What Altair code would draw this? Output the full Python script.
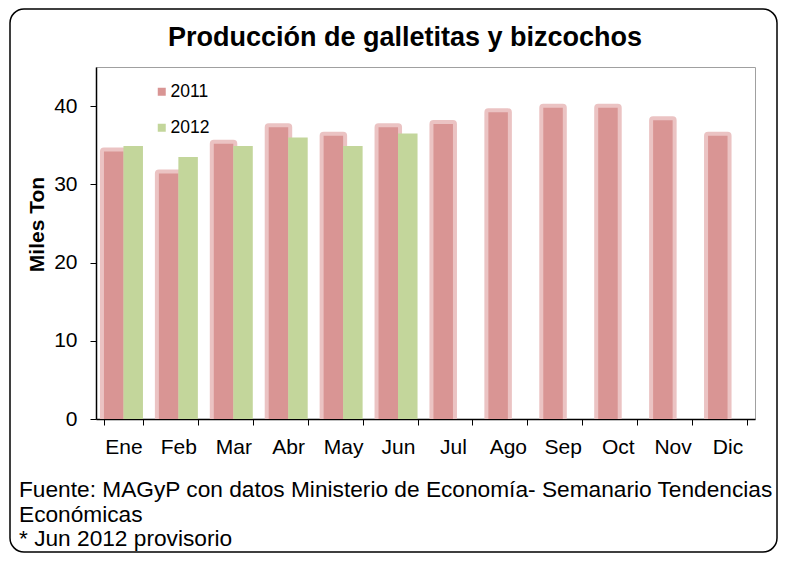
import altair as alt
import pandas as pd

months = ["Ene", "Feb", "Mar", "Abr", "May", "Jun", "Jul", "Ago", "Sep", "Oct", "Nov", "Dic"]
years = ["2011", "2012"]
prod_2011 = [34.2, 31.4, 35.2, 37.3, 36.2, 37.3, 37.7, 39.2, 39.8, 39.8, 38.2, 36.2]
prod_2012 = [34.9, 33.5, 34.9, 36.0, 34.9, 36.5]
y_ticks = [0, 10, 20, 30, 40]
title_text = "Producción de galletitas y bizcochos"
y_title = "Miles Ton"
footer_lines = [
    "Fuente: MAGyP con datos Ministerio de Economía- Semanario Tendencias",
    "Económicas",
    "* Jun 2012 provisorio",
]

rows = []
for m, v in zip(months, prod_2011):
    rows.append({"mes": m, "anio": "2011", "valor": v})
for m, v in zip(months, prod_2012):
    rows.append({"mes": m, "anio": "2012", "valor": v})
df = pd.DataFrame(rows)

FONT = "Liberation Sans"
PINK = "#d99594"
GLOW = "#ebc3c3"
GREEN = "#c3d69b"

x_enc = alt.X(
    "mes:N",
    sort=months,
    scale=alt.Scale(paddingInner=0.29, paddingOuter=0.145),
    axis=alt.Axis(
        title=None,
        labelAngle=0,
        labelFontSize=21,
        labelFont=FONT,
        labelColor="black",
        labelPadding=11,
        tickSize=6,
        tickColor="black",
        tickBand="extent",
        domainColor="black",
        domainWidth=1.5,
    ),
)
y_enc = alt.Y(
    "valor:Q",
    scale=alt.Scale(domain=[0, 45], nice=False),
    axis=alt.Axis(
        title=y_title,
        values=y_ticks,
        grid=False,
        labelFontSize=21,
        labelFont=FONT,
        labelColor="black",
        labelPadding=13,
        tickSize=6,
        tickColor="black",
        domainColor="black",
        domainWidth=1.5,
        titleFont=FONT,
        titleFontSize=21,
        titleFontWeight="bold",
        titleColor="black",
        titleX=-59,
        titleY=157,
        titleAngle=-90,
        titleAlign="center",
        titleBaseline="middle",
    ),
)
xoff = alt.XOffset("anio:N", scale=alt.Scale(domain=years, paddingInner=0, paddingOuter=0))

base = alt.Chart(df)

glow = base.transform_filter(alt.datum.anio == "2011").mark_bar(
    fill=GLOW, stroke=GLOW, strokeWidth=8, strokeJoin="round", clip=True
).encode(x=x_enc, y=y_enc, xOffset=xoff)

bars = base.mark_bar().encode(
    x=x_enc,
    y=y_enc,
    xOffset=xoff,
    color=alt.Color(
        "anio:N",
        scale=alt.Scale(domain=years, range=[PINK, GREEN]),
        legend=alt.Legend(
            title=None,
            orient="none",
            legendX=57,
            legendY=16,
            symbolType="square",
            symbolSize=64,
            symbolStrokeWidth=0,
            labelFont=FONT,
            labelFontSize=17.5,
            labelColor="black",
            labelOffset=0,
            rowPadding=17,
            padding=0,
        ),
    ),
)

title = alt.Chart(pd.DataFrame({"t": [title_text]})).mark_text(
    font=FONT, fontSize=27, fontWeight="bold", align="center", baseline="alphabetic", color="black"
).encode(text="t:N", x=alt.value(309), y=alt.value(-21))

footer_y = [430, 455, 479]
footers = [
    alt.Chart(pd.DataFrame({"t": [line]})).mark_text(
        font=FONT, fontSize=22.7, align="left", baseline="alphabetic", color="black"
    ).encode(text="t:N", x=alt.value(-77), y=alt.value(yy))
    for line, yy in zip(footer_lines, footer_y)
]

border = alt.Chart(pd.DataFrame({"a": [0]})).mark_rect(
    fill="transparent", stroke="black", strokeWidth=1.5, cornerRadius=14
).encode(x=alt.value(-86), x2=alt.value(681), y=alt.value(-58), y2=alt.value(485))

chart = (
    alt.layer(border, glow, bars, title, *footers)
    .properties(
        width=659,
        height=352,
        autosize=alt.AutoSizeParams(type="none"),
        padding={"left": 88, "top": 59, "right": 23, "bottom": 135},
        background="white",
    )
    .configure_view(stroke="#a0a0a0", strokeWidth=1)
)

chart.save("out.html", embed_options={"renderer": "svg", "actions": False})
